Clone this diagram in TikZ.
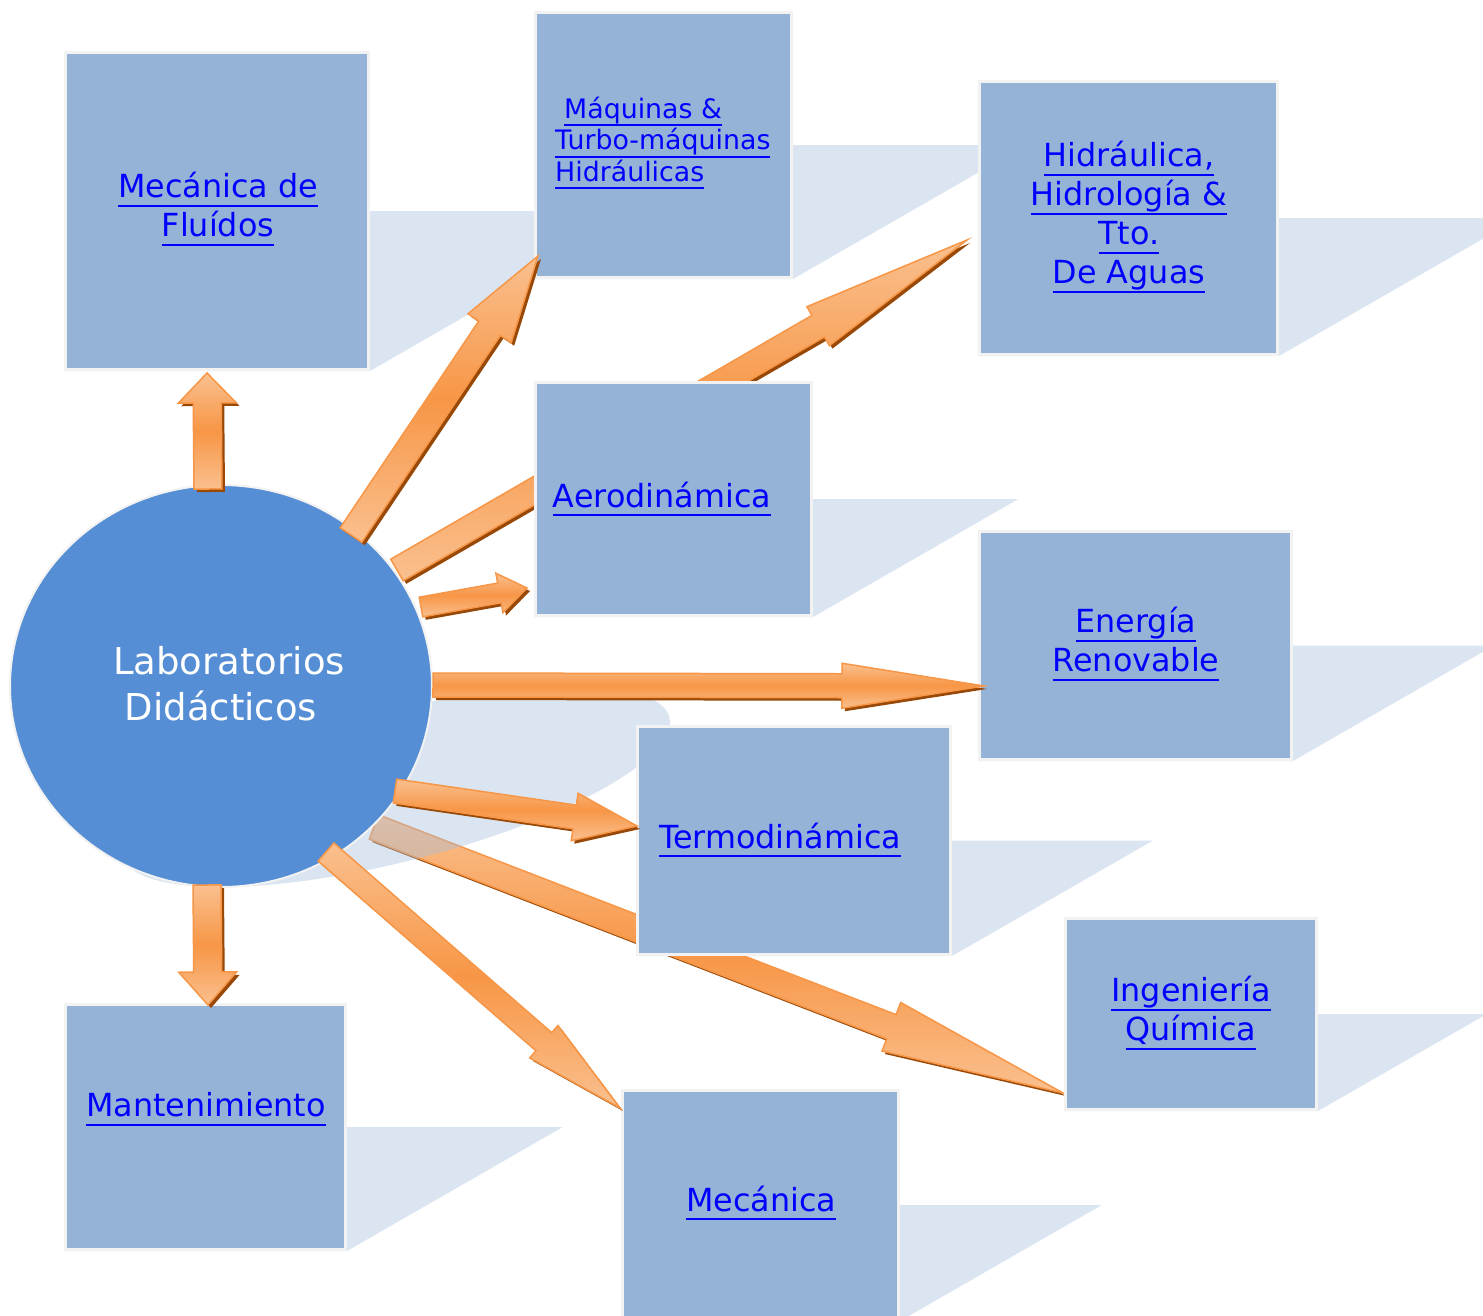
\documentclass[tikz,border=0pt]{standalone}
\usepackage{fontspec}
\newfontfamily\vfont{DejaVu Sans}
\usetikzlibrary{calc,shapes.geometric}
\definecolor{boxfill}{HTML}{95B3D7}
\definecolor{boxedge}{HTML}{F2F2F2}
\definecolor{shadowc}{HTML}{DBE5F1}
\definecolor{circfill}{HTML}{558ED5}
\definecolor{arrdark}{HTML}{F79646}
\definecolor{arrlight}{HTML}{FAC08F}
\definecolor{arrshadow}{HTML}{984807}
\definecolor{linkblue}{HTML}{0000FF}
\definecolor{cshadow}{RGB}{165,190,220}
\pgfdeclarelayer{back}
\pgfdeclarelayer{mid}
\pgfsetlayers{back,mid,main}

\newcommand\lk[1]{\setbox0\hbox{#1\vphantom{gy}}\leavevmode\rlap{\rule[-\dimexpr\dp0+2.5pt\relax]{\wd0}{2pt}}\box0}

% tail, tip, shaft half width, head half width, head length
\newcommand\barrow[5]{%
  \coordinate (hb) at ($(#2)!#5pt!(#1)$);
  \def\apath{($(#1)!#3pt!90:(#2)$) -- ($(hb)!#3pt!90:(#2)$) -- ($(hb)!#4pt!90:(#2)$) -- (#2) -- ($(hb)!#4pt!-90:(#2)$) -- ($(hb)!#3pt!-90:(#2)$) -- ($(#1)!#3pt!-90:(#2)$) -- cycle}%
  \begin{scope}[transform canvas={xshift=3pt,yshift=-3pt}]
    \fill[arrshadow] \apath;
  \end{scope}
  \path[arrowbody] \apath;
}

% name, cx, cy, w, h
\newcommand\mkbox[5]{%
  \node[boxnode, minimum width=#4pt, minimum height=#5pt] (#1) at (#2,#3) {};
  \begin{pgfonlayer}{back}
    \fill[shadowc] let \p1=(#1.north), \p2=(#1.south), \n1={0.87*(\y1-\y2)} in
      (#1.south west) -- (#1.south east) -- ($(#1.east)+(\n1,0)$) -- ($(#1.west)+(\n1,0)$) -- cycle;
  \end{pgfonlayer}
}

\begin{document}
\begin{tikzpicture}[x=1pt,y=-1pt,
  boxnode/.style={draw=boxedge, line width=3pt, fill=boxfill, inner sep=0pt},
  link/.style={text=linkblue, font=\vfont\fontsize{31.8}{39}\selectfont, align=center, inner sep=0pt},
  smalllink/.style={text=linkblue, font=\vfont\fontsize{26.8}{31.5}\selectfont, align=left, inner sep=0pt},
  arrowbody/.style={draw=arrdark, line width=1.5pt, line join=miter, top color=arrlight, bottom color=arrlight, middle color=arrdark}]

\begin{pgfonlayer}{back}
  \fill[white] (0,0) rectangle (1483,1315);
\end{pgfonlayer}
\useasboundingbox (0,0) rectangle (1483,1315);

% central node
\node[ellipse, fill=circfill, draw=boxedge, line width=2pt, minimum width=422pt, minimum height=402pt, inner sep=0pt,
      text=white, font=\vfont\fontsize{37}{46}\selectfont, align=center] (lab) at (221,686) {\hspace*{16pt}Laboratorios\\Didácticos\\[-40pt]\mbox{}};

% boxes
\mkbox{fluid}{217}{211}{303}{317}
\mkbox{maq}{663.5}{145}{256}{265}
\mkbox{hid}{1128.5}{218}{298}{273}
\mkbox{aero}{673.5}{499}{276}{233}
\mkbox{ener}{1135.5}{645.5}{312}{228}
\mkbox{termo}{794}{840.5}{313}{228}
\mkbox{ing}{1191}{1014}{251}{191}
\mkbox{mant}{205.5}{1127}{280}{245}
\mkbox{mec}{760.5}{1205}{276}{229}

% texts
\node[link] (fluid-t) at (218,209) {\lk{Mecánica de}\\\lk{Fluídos}};
\node[smalllink, anchor=west] (maq-t) at (555,143) {\hspace*{9pt}\lk{Máquinas \&}\\\lk{Turbo-máquinas}\\\lk{Hidráulicas}};
\node[link] (hid-t) at (1129,217) {\lk{Hidráulica,}\\\lk{Hidrología \&}\\\lk{Tto.}\\\lk{De Aguas}};
\node[link] (aero-t) at (662,499) {\lk{Aerodinámica}};
\node[link] (ener-t) at (1136,644) {\lk{Energía}\\\lk{Renovable}};
\node[link] (termo-t) at (780,840) {\lk{Termodinámica}};
\node[link] (ing-t) at (1191,1013) {\lk{Ingeniería}\\\lk{Química}};
\node[link] (mant-t) at (206,1109) {\lk{Mantenimiento}};
\node[link] (mec-t) at (761,1203) {\lk{Mecánica}};

% arrow end points
\coordinate (t1) at (208,489);   \coordinate (p1) at (207,373);
\coordinate (t2) at (207,885);   \coordinate (p2) at (208,1005);
\coordinate (t3) at (351,535);   \coordinate (p3) at (538,256);
\coordinate (t4) at (397,570);   \coordinate (p4) at (967,240);
\coordinate (t5) at (421,607);   \coordinate (p5) at (527,588);
\coordinate (t6) at (433,685);   \coordinate (p6) at (984,686);
\coordinate (t7) at (395,791);   \coordinate (p7) at (637,826);
\coordinate (t8) at (374,827);   \coordinate (p8) at (1063,1093);
\coordinate (t9) at (326,852);   \coordinate (p9) at (620,1108);

% arrows behind boxes, circle shadow
\begin{pgfonlayer}{mid}
  \barrow{t8}{p8}{13}{26}{184}
  \fill[cshadow, opacity=0.4] plot[domain=0:360, samples=120, smooth]
     ({221+211*cos(\x)+174.9*(1+sin(\x))}, {887-100.5*(1+sin(\x))}) -- cycle;
  \barrow{t4}{p4}{12.5}{22.5}{172}
\end{pgfonlayer}

% arrows on top
\barrow{t1}{p1}{14}{29}{30}
\barrow{t2}{p2}{14}{29}{33}
\barrow{t3}{p3}{13}{26}{87}
\barrow{t5}{p5}{10}{20}{28}
\barrow{t6}{p6}{12}{22.5}{142}
\barrow{t7}{p7}{12}{24}{63}
\barrow{t9}{p9}{12}{21.5}{101}

\end{tikzpicture}
\end{document}
